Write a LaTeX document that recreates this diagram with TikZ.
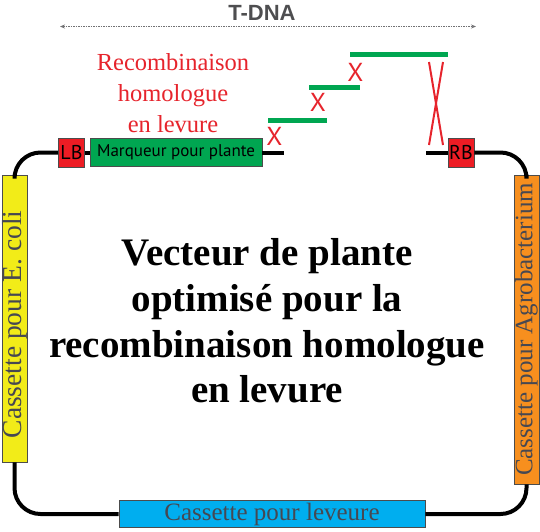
\documentclass[tikz,border=0pt]{standalone}
\usepackage{fontspec}
\setmainfont{Liberation Serif}
\newfontfamily\labelfont{PT Sans}
\newfontfamily\headfont{Liberation Sans}
\usetikzlibrary{arrows.meta, positioning}
\definecolor{borderred}{RGB}{237,28,36}
\definecolor{recombred}{RGB}{230,36,44}
\definecolor{markergreen}{RGB}{0,166,81}
\definecolor{colibox}{RGB}{242,236,24}
\definecolor{agrobox}{RGB}{247,143,30}
\definecolor{yeastbox}{RGB}{0,174,239}
\definecolor{cassettetext}{RGB}{70,72,82}
\definecolor{tdnagray}{RGB}{78,78,80}

\begin{document}
\begin{tikzpicture}[x=1pt, y=-1pt,
    cassette/.style={rectangle, draw=black!70, line width=0.8pt, inner sep=0pt, text=cassettetext, font=\fontsize{25}{25}\selectfont},
    border/.style={rectangle, draw=black!70, line width=0.6pt, fill=borderred, inner sep=0pt, minimum width=26pt, minimum height=29pt, font=\labelfont\fontsize{20}{20}\selectfont},
    marker/.style={rectangle, draw=black!70, line width=0.6pt, fill=markergreen, inner sep=0pt, minimum width=172pt, minimum height=28pt, font=\labelfont\fontsize{17}{17}\selectfont},
    backbone/.style={line width=4pt, black, rounded corners=26pt},
    homol/.style={line width=5pt, markergreen},
    cross/.style={text=recombred, inner sep=0pt, font=\labelfont\fontsize{26}{26}\selectfont},
    arrow/.style={{Stealth[length=5pt,width=4pt]}-{Stealth[length=5pt,width=4pt]}, tdnagray!80, line width=0.9pt, dash pattern=on 1.5pt off 1pt}]

    \useasboundingbox (0,0) rectangle (540,531);

    % T-DNA span
    \node [anchor=base, text=tdnagray, font=\headfont\bfseries\fontsize{22}{22}\selectfont] (tdna) at (262,20) {T-DNA};
    \coordinate (tdnaL) at (60,26.5);
    \coordinate (tdnaR) at (476,26.5);
    \draw [arrow] (tdnaL) -- (tdnaR);

    % Recombination
    \node [anchor=north, align=center, text=recombred, font=\fontsize{24.5}{31}\selectfont] (recomb) at (173,50) {Recombinaison\\homologue\\en levure};
    \draw [homol] (268,120) -- (327,120);
    \draw [homol] (309,87) -- (360,87);
    \draw [homol] (350,54) -- (448,54);
    \node [cross] (x1) at (274.5,136.5) {X};
    \node [cross] (x2) at (318,102.5) {X};
    \node [cross] (x3) at (355.5,72) {X};
    \draw [recombred, line width=2pt] (429,62) -- (443,145);
    \draw [recombred, line width=2pt] (443,62) -- (429,145);

    % Cassettes
    \node [border] (lb) at (71.5,152.5) {LB};
    \node [marker, right=5pt of lb] (marq) {Marqueur pour plante};
    \node [border] (rb) at (461,152.5) {RB};
    \node [cassette, fill=colibox, rotate=90, minimum width=287pt, minimum height=25pt, font=\fontsize{27.5}{27.5}\selectfont] (ecoli) at (14.5,318.5) {Cassette pour E. coli\hspace*{12pt}};
    \node [cassette, fill=agrobox, rotate=90, minimum width=309pt, minimum height=25pt] (agro) at (526.5,329.5) {Cassette pour Agrobacterium};
    \node [cassette, fill=yeastbox, minimum width=306pt, minimum height=27pt] (yeast) at (272,514) {Cassette pour leveure};

    % Backbone
    \coordinate (gapL) at (284,152.5);
    \coordinate (gapR) at (426,152.5);
    \draw [backbone] (ecoli.east) |- (lb.west);
    \draw [backbone] (rb.east) -| (agro.east);
    \draw [backbone] (ecoli.west) |- (yeast.west);
    \draw [backbone] (yeast.east) -| (agro.west);
    \draw [backbone] (lb.east) -- (marq.west);
    \draw [backbone] (marq.east) -- (gapL);
    \draw [backbone] (gapR) -- (rb.west);

    % Title
    \node [anchor=north, align=center, font=\bfseries\fontsize{39}{45.7}\selectfont] (title) at (267,235) {Vecteur de plante\\optimisé pour la\\recombinaison homologue\\en levure};

\end{tikzpicture}
\end{document}
